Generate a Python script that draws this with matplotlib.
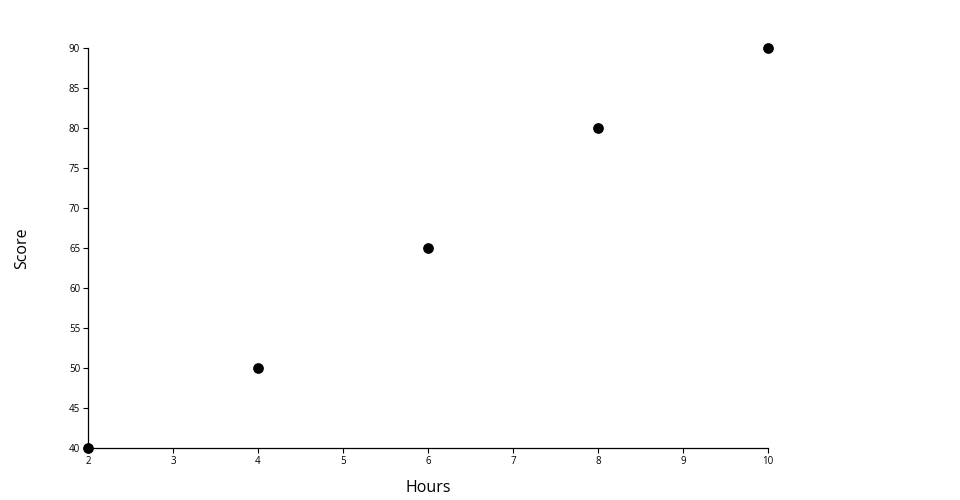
import matplotlib
matplotlib.use("Agg")
import matplotlib.pyplot as plt

hours = [2, 4, 6, 8, 10]
scores = [40, 50, 65, 80, 90]
x_ticks = [2, 3, 4, 5, 6, 7, 8, 9, 10]
y_ticks = [40, 45, 50, 55, 60, 65, 70, 75, 80, 85, 90]

plt.rcParams['font.family'] = ['Open Sans', 'DejaVu Sans']

fig = plt.figure(figsize=(9.6, 5), dpi=100)
ax = fig.add_axes([88 / 960, 52 / 500, 680 / 960, 400 / 500])

ax.scatter(hours, scores, s=45, color='black', zorder=3, clip_on=False)

ax.set_xlim(2, 10)
ax.set_ylim(40, 90)
ax.set_xticks(x_ticks)
ax.set_yticks(y_ticks)
ax.tick_params(labelsize=7, length=3.6, width=0.8, pad=2, colors='black')
for side in ['top', 'right']:
    ax.spines[side].set_visible(False)
for side in ['left', 'bottom']:
    ax.spines[side].set_linewidth(0.9)

ax.set_xlabel('Hours', fontsize=11.5)
ax.set_ylabel('Score', fontsize=11.5)
ax.xaxis.set_label_coords(340 / 680, -32 / 400)
ax.yaxis.set_label_coords(-58 / 680, 0.5)

fig.savefig('out.png', dpi=100)
